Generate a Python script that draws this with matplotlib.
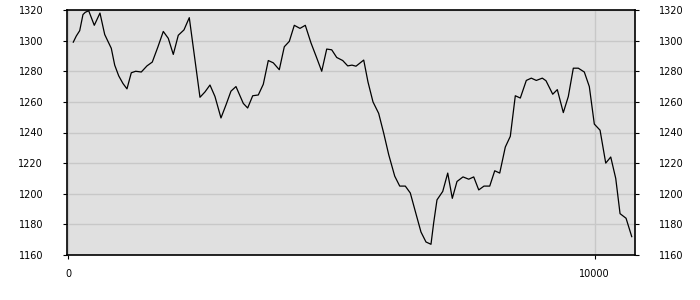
import matplotlib
matplotlib.use("Agg")
import matplotlib.pyplot as plt

x_vals = [95, 152, 217, 279, 323, 388, 494, 602, 692, 754, 817, 882, 958, 1039, 1115,
          1197, 1281, 1387, 1495, 1596, 1704, 1805, 1900, 1995, 2090, 2198, 2299,
          2502, 2597, 2692, 2787, 2901, 2996, 3091, 3186, 3325, 3408, 3504, 3610, 3705,
          3800, 3895, 4009, 4104, 4199, 4294, 4402, 4503, 4611, 4706, 4815, 4910, 5005,
          5100, 5214, 5309, 5390, 5466, 5613, 5694, 5789, 5897, 5993, 6088, 6202, 6297,
          6403, 6498, 6593, 6701, 6796, 6891, 6942, 7005, 7114, 7209, 7296, 7385, 7499,
          7608, 7703, 7798, 7898, 8007, 8102, 8197, 8303, 8398, 8493, 8588, 8702, 8797,
          8892, 9006, 9076, 9204, 9291, 9405, 9500, 9595, 9690, 9804, 9899, 9994, 10103,
          10211, 10306, 10401, 10483, 10597, 10705]
y_vals = [1299, 1303, 1306.5, 1317, 1318.5, 1319.5, 1310, 1318, 1304, 1299.5, 1295, 1284,
          1277, 1272, 1268.5, 1279, 1280, 1279.5, 1283.5, 1286, 1296, 1306, 1301.5, 1291,
          1303.5, 1307, 1315, 1263, 1266.5, 1271, 1263.5, 1249.5, 1258, 1267, 1270, 1259,
          1256, 1264, 1264.5, 1271.5, 1287, 1285.5, 1281, 1296, 1299.5, 1310, 1308, 1310,
          1298.5, 1290, 1280, 1294.5, 1294, 1289, 1287, 1283.5, 1284, 1283.3, 1287.3, 1273,
          1260, 1252.5, 1239.5, 1225.5, 1211.5, 1205, 1205, 1200.5, 1188.5, 1175, 1168.5,
          1167, 1181, 1196, 1201.5, 1213.5, 1197, 1208, 1211, 1209.5, 1211, 1202.5, 1205,
          1205, 1215, 1213.5, 1230.5, 1237.5, 1264, 1262.5, 1274, 1275.5, 1274, 1275.5,
          1273.8, 1265, 1268, 1253, 1263.5, 1282, 1282, 1279.5, 1270, 1245.5, 1241.5, 1220,
          1224, 1210, 1187, 1184, 1172]

y_ticks = [1160, 1180, 1200, 1220, 1240, 1260, 1280, 1300, 1320]
x_ticks = [0, 10000]

fig = plt.figure(figsize=(7, 3), dpi=100)
ax = fig.add_axes([66.7 / 700, 45 / 300, (635 - 66.7) / 700, 245 / 300])
ax.set_facecolor("#e0e0e0")
ax.plot(x_vals, y_vals, color="black", lw=0.9, zorder=3)
ax.set_xlim(-30, 10767)
ax.set_ylim(1160, 1320)
ax.set_yticks(y_ticks)
ax.set_xticks(x_ticks)
ax.set_xticklabels([str(t) for t in x_ticks])
ax.grid(True, color="#c8c8c8", lw=1.0, zorder=1)
ax.set_axisbelow(True)
for s in ax.spines.values():
    s.set_color("black")
    s.set_linewidth(1.2)
ax.tick_params(axis="y", which="both", left=True, right=True, labelleft=True,
               labelright=True, length=3, pad=14, labelsize=7, colors="black")
ax.tick_params(axis="x", length=3, pad=7, labelsize=7, colors="black")
fig.savefig("out.png", dpi=100)
